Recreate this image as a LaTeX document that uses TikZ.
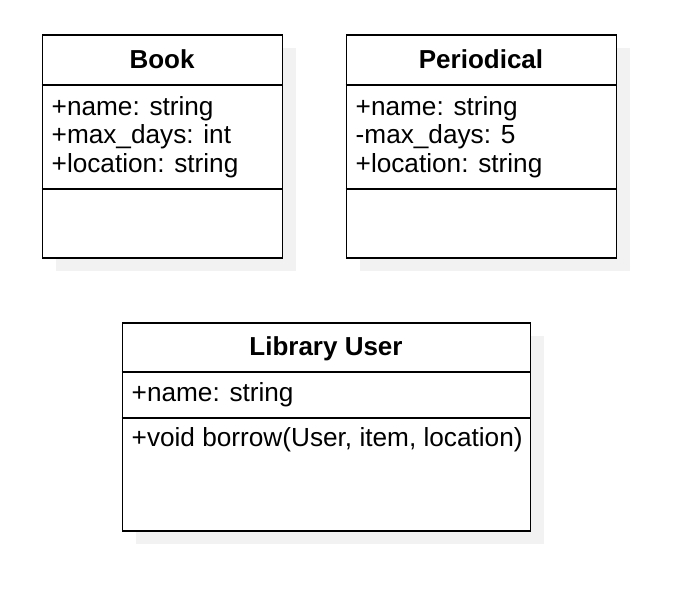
\documentclass[tikz,border=0pt]{standalone}
\usepackage{fontspec}
\setmainfont{Liberation Sans}
\usetikzlibrary{positioning}
\definecolor{umlink}{HTML}{000000}
\definecolor{umlshadow}{HTML}{F2F2F2}

\tikzset{
  classbox/.style={draw=umlink, line width=1.8pt, fill=white, inner sep=0, anchor=north west},
  divider/.style={umlink, line width=1.8pt},
  classname/.style={anchor=base, inner sep=0, font=\fontsize{26}{30}\selectfont\bfseries},
  member/.style={anchor=base west, inner sep=0}
}

\begin{document}
\begin{tikzpicture}[x=1pt, y=-1pt, font=\fontsize{26.2}{30}\selectfont]
\useasboundingbox (0,0) rectangle (674,596);

% ============================================== Book
\fill[umlshadow] (56,48) rectangle (296,271);
\node[classbox, minimum width=240pt, minimum height=223pt] (book) at (41.5,34) {};
\draw[divider] ([yshift=-51pt]book.north west) -- ([yshift=-51pt]book.north east);
\draw[divider] ([yshift=-155pt]book.north west) -- ([yshift=-155pt]book.north east);
\node[classname] (book-name) at (162,68.5) {Book};
\foreach \i/\t in {0/{+name: string}, 1/{+max\_days: int}, 2/{+location: string}}
  \node[member] (book-a\i) at (51.5,115.7+\i*28.3) {\t};

% ============================================== Periodical
\fill[umlshadow] (360,48) rectangle (630,271);
\node[classbox, minimum width=270pt, minimum height=223pt] (periodical) at (345.5,34) {};
\draw[divider] ([yshift=-51pt]periodical.north west) -- ([yshift=-51pt]periodical.north east);
\draw[divider] ([yshift=-155pt]periodical.north west) -- ([yshift=-155pt]periodical.north east);
\node[classname] (periodical-name) at (481,68.5) {Periodical};
\foreach \i/\t in {0/{+name: string}, 1/{-max\_days: 5}, 2/{+location: string}}
  \node[member] (periodical-a\i) at (355.5,115.7+\i*28.3) {\t};

% ============================================== Library User
\fill[umlshadow] (136,336) rectangle (544,544);
\node[classbox, minimum width=408pt, minimum height=208pt] (user) at (121.5,322) {};
\draw[divider] ([yshift=-50pt]user.north west) -- ([yshift=-50pt]user.north east);
\draw[divider] ([yshift=-96pt]user.north west) -- ([yshift=-96pt]user.north east);
\node[classname] (user-name) at (326,355) {Library User};
\node[member] (user-a0) at (131.5,401.7) {+name: string};
\node[member] (user-m0) at (131.5,446.7) {+void borrow(User, item, location)};

\end{tikzpicture}
\end{document}
